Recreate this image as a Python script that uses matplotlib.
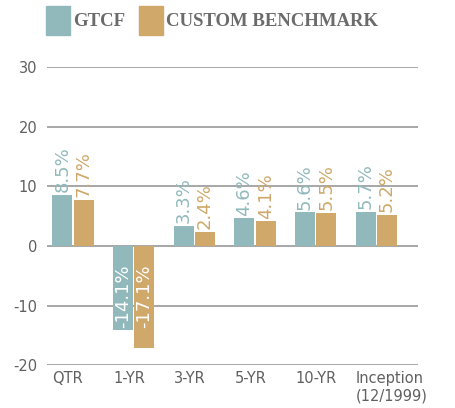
import numpy as np
import matplotlib.pyplot as plt

plt.rcParams["axes.unicode_minus"] = False
plt.rcParams["font.family"] = "DejaVu Sans"

# data
categories = ["QTR", "1-YR", "3-YR", "5-YR", "10-YR", "Inception\n(12/1999)"]
gtcf = [8.5, -14.1, 3.3, 4.6, 5.6, 5.7]
bench = [7.7, -17.1, 2.4, 4.1, 5.5, 5.2]
gtcf_lbl = ["8.5%", "-14.1%", "3.3%", "4.6%", "5.6%", "5.7%"]
bench_lbl = ["7.7%", "-17.1%", "2.4%", "4.1%", "5.5%", "5.2%"]

c_gtcf = "#91B9BB"
c_bench = "#CFA86A"
grey = "#606060"

fig = plt.figure(figsize=(4.55, 4.08), dpi=100)
ax = fig.add_axes([0.103, 0.105, 0.816, 0.731])

x = np.arange(len(categories))
w = 0.33
off = 0.175
ax.bar(x - off, gtcf, w, color=c_gtcf, zorder=3)
ax.bar(x + off, bench, w, color=c_bench, zorder=3)

# value labels
for xs, vals, lbls, col in [(x - off, gtcf, gtcf_lbl, c_gtcf), (x + off, bench, bench_lbl, c_bench)]:
    for xi, v, t in zip(xs, vals, lbls):
        if v >= 0:
            ax.annotate(t, (xi, v), xytext=(0, 2), textcoords="offset points",
                        rotation=90, ha="center", va="bottom", color=col, fontsize=13)
        else:
            ax.annotate(t, (xi, 0), xytext=(0, -13), textcoords="offset points",
                        rotation=90, ha="center", va="top", color="white", fontsize=13, zorder=4)

ax.set_ylim(-20, 30)
ax.set_yticks([-20, -10, 0, 10, 20, 30])
ax.set_xlim(-0.43, 5.69)
ax.set_xticks(x - 0.34)
ax.set_xticklabels(categories, ha="left", multialignment="left")
ax.tick_params(axis="both", length=0, colors=grey, labelsize=10.5)
ax.tick_params(axis="y", pad=7)
ax.tick_params(axis="x", pad=4)
ax.grid(axis="y", color="#a0a0a0", linewidth=1.3, zorder=0)
for s in ax.spines.values():
    s.set_visible(False)

# legend
fig.patches.append(plt.Rectangle((46 / 455, 1 - 35 / 408), 24 / 455, 29 / 408,
                                 transform=fig.transFigure, color=c_gtcf))
fig.patches.append(plt.Rectangle((139 / 455, 1 - 35 / 408), 24 / 455, 29 / 408,
                                 transform=fig.transFigure, color=c_bench))
fig.text(73 / 455, 1 - 21 / 408, "GTCF", family="Liberation Serif", weight="bold",
         fontsize=13.5, color="#6b6b6b", va="center")
fig.text(166 / 455, 1 - 21 / 408, "CUSTOM BENCHMARK", family="Liberation Serif", weight="bold",
         fontsize=13.5, color="#6b6b6b", va="center")

fig.savefig("out.png")
